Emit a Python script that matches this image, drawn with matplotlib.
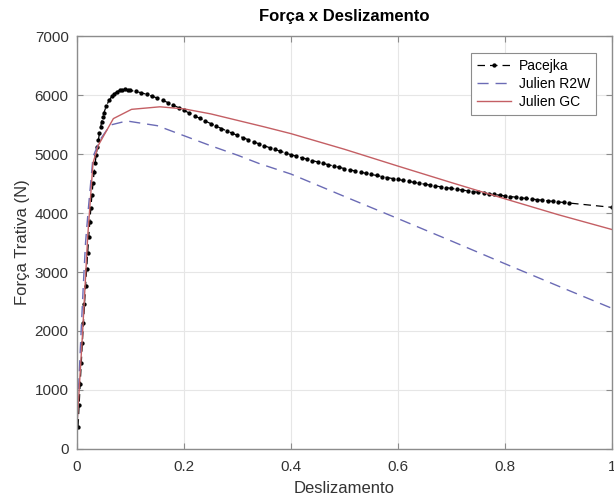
import matplotlib
matplotlib.use("Agg")
import matplotlib.pyplot as plt

plt.rcParams["font.family"] = ["Liberation Sans", "DejaVu Sans"]

# Pacejka (dense samples)
pacejka_x = [
    0.002, 0.004, 0.006, 0.008, 0.010, 0.012, 0.014, 0.016, 0.018, 0.020,
    0.022, 0.024, 0.026, 0.028, 0.030, 0.032, 0.034, 0.036, 0.038, 0.040,
    0.042, 0.044, 0.046, 0.048, 0.050, 0.055, 0.060, 0.065, 0.070, 0.075,
    0.080, 0.085, 0.090, 0.095, 0.10, 0.11, 0.12, 0.13, 0.14, 0.15,
    0.16, 0.17, 0.18, 0.19, 0.20, 0.21, 0.22, 0.23, 0.24, 0.25,
    0.26, 0.27, 0.28, 0.29, 0.30, 0.31, 0.32, 0.33, 0.34, 0.35,
    0.36, 0.37, 0.38, 0.39, 0.40, 0.41, 0.42, 0.43, 0.44, 0.45,
    0.46, 0.47, 0.48, 0.49, 0.50, 0.51, 0.52, 0.53, 0.54, 0.55,
    0.56, 0.57, 0.58, 0.59, 0.60, 0.61, 0.62, 0.63, 0.64, 0.65,
    0.66, 0.67, 0.68, 0.69, 0.70, 0.71, 0.72, 0.73, 0.74, 0.75,
    0.76, 0.77, 0.78, 0.79, 0.80, 0.81, 0.82, 0.83, 0.84, 0.85,
    0.86, 0.87, 0.88, 0.89, 0.90, 0.91, 0.92, 1.00,
]
pacejka_y = [
    380, 750, 1110, 1460, 1800, 2130, 2450, 2760, 3050, 3330,
    3600, 3850, 4090, 4310, 4510, 4690, 4850, 4990, 5120, 5240,
    5350, 5450, 5540, 5620, 5690, 5820, 5910, 5975, 6025, 6058,
    6080, 6092, 6095, 6090, 6077, 6060, 6038, 6012, 5982, 5948,
    5911, 5871, 5829, 5785, 5740, 5693, 5647, 5602, 5558, 5515,
    5473, 5432, 5392, 5353, 5315, 5278, 5242, 5207, 5173, 5140,
    5108, 5077, 5047, 5017, 4988, 4962, 4937, 4912, 4888, 4864,
    4841, 4818, 4796, 4774, 4753, 4732, 4712, 4692, 4673, 4654,
    4636, 4618, 4601, 4584, 4568, 4551, 4535, 4519, 4503, 4488,
    4473, 4458, 4444, 4430, 4416, 4402, 4389, 4376, 4363, 4350,
    4338, 4326, 4314, 4302, 4290, 4279, 4268, 4257, 4246, 4236,
    4226, 4216, 4206, 4196, 4187, 4178, 4169, 4096,
]

# Julien R2W
r2w_x = [0.0, 0.004, 0.008, 0.012, 0.016, 0.021, 0.030, 0.043, 0.062, 0.093,
         0.15, 0.20, 0.25, 0.30, 0.34, 0.40, 0.50, 0.60, 0.70, 0.80, 0.90, 1.00]
r2w_y = [400, 1250, 2050, 2810, 3500, 4050, 4955, 5240, 5490, 5560,
         5480, 5310, 5140, 4980, 4840, 4660, 4280, 3905, 3525, 3140, 2760, 2384]

# Julien GC
gc_x = [0.0, 0.010, 0.020, 0.030, 0.040, 0.068, 0.102, 0.155, 0.20, 0.25,
        0.30, 0.35, 0.40, 0.50, 0.60, 0.70, 0.80, 0.90, 1.00]
gc_y = [400, 1900, 3600, 4850, 5150, 5600, 5757, 5800, 5765, 5680,
        5570, 5460, 5345, 5080, 4795, 4515, 4240, 3970, 3720]

fig = plt.figure(figsize=(6.14, 4.98), dpi=100)
ax = fig.add_axes([0.1254, 0.0984, 0.8713, 0.8293])

ax.plot(pacejka_x, pacejka_y, "--", color="black", marker=".", markersize=4.2,
        linewidth=0.9, dashes=(6, 4), label="Pacejka")
ax.plot(r2w_x, r2w_y, "--", color="#6b6bb5", linewidth=1.0, dashes=(8, 5),
        label="Julien R2W")
ax.plot(gc_x, gc_y, "-", color="#c45f64", linewidth=1.0, label="Julien GC")

ax.set_xlim(0, 1)
ax.set_ylim(0, 7000)
ax.set_xticks([0, 0.2, 0.4, 0.6, 0.8, 1])
ax.set_xticklabels(["0", "0.2", "0.4", "0.6", "0.8", "1"])
ax.set_yticks(range(0, 7001, 1000))
ax.grid(True, color="#e6e6e6", linewidth=0.8)
ax.set_axisbelow(True)
for spine in ax.spines.values():
    spine.set_color("#8c8c8c")
    spine.set_linewidth(1.0)
ax.tick_params(direction="in", top=True, right=True, length=4, color="#8c8c8c",
               labelsize=11, labelcolor="#333333")
ax.tick_params(axis="x", pad=8)
ax.tick_params(axis="y", pad=6)

ax.set_title("Força x Deslizamento", fontsize=12, fontweight="bold", pad=11)
ax.set_xlabel("Deslizamento", fontsize=12, color="#333333", labelpad=5)
ax.set_ylabel("Força Trativa (N)", fontsize=12, color="#333333", labelpad=3)

leg = ax.legend(loc="upper right", bbox_to_anchor=(0.971, 0.96), borderaxespad=0,
                fancybox=False, framealpha=1, edgecolor="#8c8c8c", fontsize=10,
                handlelength=2.4, handletextpad=0.6, borderpad=0.45,
                labelspacing=0.3)
leg.get_frame().set_linewidth(0.8)

fig.savefig("out.png", dpi=100, facecolor="white")
